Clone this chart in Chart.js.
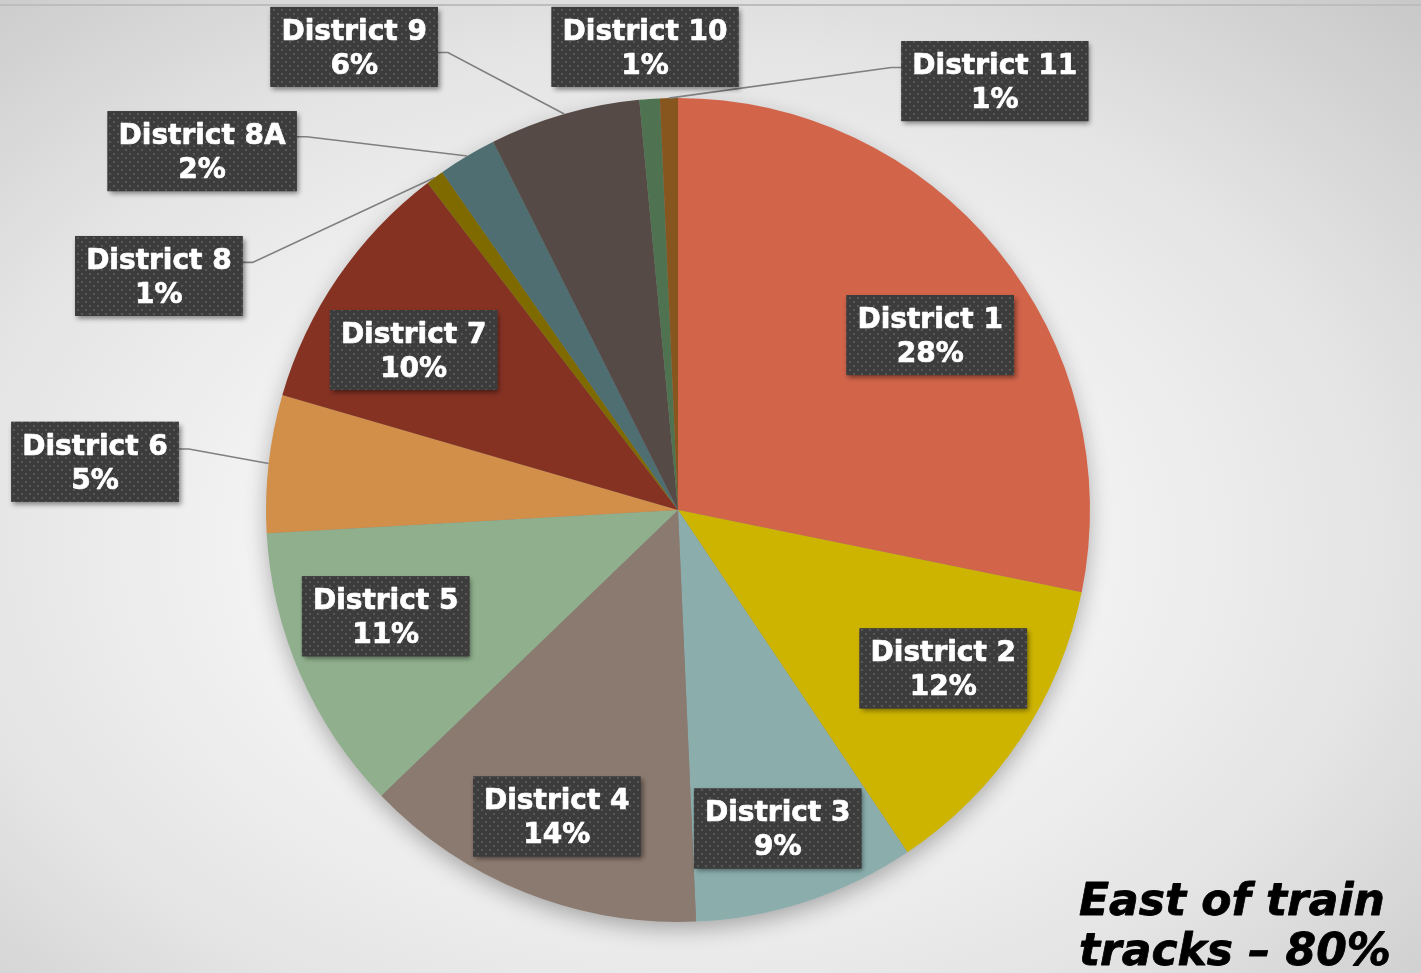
<!DOCTYPE html>
<html>
<head>
<meta charset="utf-8">
<script src="https://cdn.jsdelivr.net/npm/chart.js@4.4.1/dist/chart.umd.min.js"></script>
<style>
  html, body { margin: 0; padding: 0; }
  body {
    width: 1421px; height: 973px; overflow: hidden; position: relative;
    background: radial-gradient(ellipse 78% 80% at 47% 56%, #ffffff 0%, #f6f6f6 30%, #e4e4e4 65%, #c6c6c6 100%);
  }
  #topline { position: absolute; left: 0; top: 4px; width: 1421px; height: 2px; background: #bdbdbd; }
  canvas { position: absolute; left: 0; top: 0; }
</style>
</head>
<body>
<div id="topline"></div>
<canvas id="c" width="1421" height="973"></canvas>
<script>
// ---- data ----
const categories = ['District 1', 'District 2', 'District 3', 'District 4', 'District 5', 'District 6',
                    'District 7', 'District 8', 'District 8A', 'District 9', 'District 10', 'District 11'];
const shares = [28.2, 12.4, 8.7, 13.5, 11.3, 5.4, 10.1, 0.7, 2.3, 5.9, 0.8, 0.7];
const percentLabels = ['28%', '12%', '9%', '14%', '11%', '5%', '10%', '1%', '2%', '6%', '1%', '1%'];
const sliceColors = ['#D2644A', '#CDB400', '#8BAEAD', '#8B7A6F', '#90B08D', '#D18F4A',
                     '#853223', '#7F6A00', '#4E6E72', '#554A45', '#4F7350', '#87561F'];
const annotationLines = ['East of train', 'tracks \u2013 80%'];

// ---- label placement (style/config, in units of pie radius) ----
// inside labels: r = radius fraction, da = angle offset (deg) from slice middle
// outside labels: dx, dy = box centre relative to pie centre; a = leader anchor fraction on box side
const labelPlacement = [
  { r: 0.745, da: 4.5 },
  { r: 0.75, da: -3 },
  { r: 0.81, da: 0.8 },
  { r: 0.80, da: -0.2 },
  { r: 0.755, da: 3.6 },
  { dx: -1.415, dy: -0.117, a: 0.34 },
  { r: 0.75, da: -3.2 },
  { dx: -1.26, dy: -0.568, a: 0.33 },
  { dx: -1.155, dy: -0.871, a: 0.32 },
  { dx: -0.786, dy: -1.124, a: 0.57 },
  { dx: -0.08, dy: -1.124, noLine: true },
  { dx: 0.769, dy: -1.041, a: 0.33 }
];

function makePattern(ctx) {
  const p = document.createElement('canvas');
  p.width = 8; p.height = 8;
  const g = p.getContext('2d');
  g.fillStyle = '#3c3c3c'; g.fillRect(0, 0, 8, 8);
  g.fillStyle = '#585858';
  g.fillRect(1, 1, 2, 2);
  g.fillRect(5, 5, 2, 2);
  return ctx.createPattern(p, 'repeat');
}

const pieShadow = {
  id: 'pieShadow',
  beforeDatasetsDraw(chart) {
    const arc = chart.getDatasetMeta(0).data[0];
    if (!arc) return;
    const { x, y, outerRadius } = arc.getProps(['x', 'y', 'outerRadius'], true);
    const ctx = chart.ctx;
    ctx.save();
    ctx.shadowColor = 'rgba(0,0,0,0.30)';
    ctx.shadowBlur = 22;
    ctx.shadowOffsetY = 8;
    ctx.beginPath();
    ctx.arc(x, y, outerRadius - 1, 0, Math.PI * 2);
    ctx.fillStyle = '#888';
    ctx.fill();
    ctx.restore();
  }
};

const boxLabels = {
  id: 'boxLabels',
  afterDatasetsDraw(chart) {
    const ctx = chart.ctx;
    const meta = chart.getDatasetMeta(0);
    const pattern = makePattern(ctx);
    const font = 'bold 28px "DejaVu Sans", Verdana, sans-serif';
    ctx.save();
    ctx.font = font;
    const boxes = [];
    meta.data.forEach((arc, i) => {
      const { x, y, startAngle, endAngle, outerRadius: R } =
        arc.getProps(['x', 'y', 'startAngle', 'endAngle', 'outerRadius'], true);
      const mid = (startAngle + endAngle) / 2;
      const pl = labelPlacement[i];
      const l1 = chart.data.labels[i], l2 = percentLabels[i];
      const w = Math.max(ctx.measureText(l1).width, ctx.measureText(l2).width) + 22;
      const h = 80;
      let cx, cy;
      if (pl.r !== undefined) {
        const ang = mid + (pl.da || 0) * Math.PI / 180;
        cx = x + Math.cos(ang) * R * pl.r;
        cy = y + Math.sin(ang) * R * pl.r;
      } else {
        cx = x + pl.dx * R;
        cy = y + pl.dy * R;
      }
      const left = cx - w / 2, top = cy - h / 2;
      boxes.push({ left, top, w, h, l1, l2, cx });
      if (pl.r === undefined && !pl.noLine) {
        const ex = x + Math.cos(mid) * R, ey = y + Math.sin(mid) * R;
        const ay = top + h * pl.a;
        let sx, stub;
        if (ex > left + w) { sx = left + w; stub = 10; } else { sx = left; stub = -10; }
        ctx.beginPath();
        ctx.moveTo(ex, ey);
        ctx.lineTo(sx + stub, ay);
        ctx.lineTo(sx, ay);
        ctx.strokeStyle = '#7f7f7f';
        ctx.lineWidth = 1.6;
        ctx.stroke();
      }
    });
    boxes.forEach(b => {
      ctx.save();
      ctx.shadowColor = 'rgba(0,0,0,0.45)';
      ctx.shadowBlur = 5;
      ctx.shadowOffsetX = 2;
      ctx.shadowOffsetY = 3;
      ctx.fillStyle = '#3c3c3c';
      ctx.fillRect(b.left, b.top, b.w, b.h);
      ctx.restore();
      ctx.fillStyle = pattern;
      ctx.fillRect(b.left, b.top, b.w, b.h);
      ctx.fillStyle = '#ffffff';
      ctx.strokeStyle = '#ffffff';
      ctx.lineWidth = 0.7;
      ctx.lineJoin = 'round';
      ctx.textAlign = 'center';
      ctx.textBaseline = 'alphabetic';
      ctx.font = font;
      ctx.fillText(b.l1, b.cx, b.top + 33);
      ctx.strokeText(b.l1, b.cx, b.top + 33);
      ctx.fillText(b.l2, b.cx, b.top + 67);
      ctx.strokeText(b.l2, b.cx, b.top + 67);
    });
    ctx.restore();
  },
  afterDraw(chart) {
    const ctx = chart.ctx;
    ctx.save();
    ctx.font = 'italic bold 44px "DejaVu Sans", Verdana, sans-serif';
    ctx.fillStyle = '#000000';
    ctx.strokeStyle = '#000000';
    ctx.lineWidth = 0.8;
    ctx.lineJoin = 'round';
    ctx.textAlign = 'left';
    ctx.textBaseline = 'alphabetic';
    ctx.fillText(annotationLines[0], 1079, 915);
    ctx.strokeText(annotationLines[0], 1079, 915);
    ctx.fillText(annotationLines[1], 1079, 965);
    ctx.strokeText(annotationLines[1], 1079, 965);
    ctx.restore();
  }
};

new Chart(document.getElementById('c'), {
  type: 'pie',
  data: {
    labels: categories,
    datasets: [{
      data: shares,
      backgroundColor: sliceColors,
      borderWidth: 0
    }]
  },
  options: {
    responsive: false,
    animation: false,
    layout: { padding: { top: 98, bottom: 51, left: 266, right: 331 } },
    plugins: {
      legend: { display: false },
      tooltip: { enabled: false }
    }
  },
  plugins: [pieShadow, boxLabels]
});
</script>
</body>
</html>
